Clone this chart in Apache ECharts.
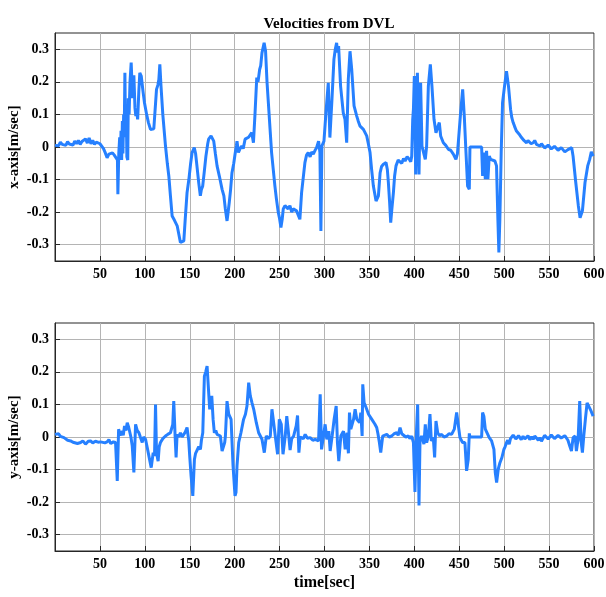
<!DOCTYPE html>
<html>
<head>
<meta charset="utf-8">
<script src="https://cdn.jsdelivr.net/npm/echarts@6/dist/echarts.min.js"></script>
<style>
  html, body { margin: 0; padding: 0; background: #fff; }
  #chart { width: 606px; height: 597px; }
</style>
</head>
<body>
<div id="chart"></div>
<script>
// x-axis velocity (top panel)
var timeX = [
  0,2,4,6,8,10,12,14,16,18,
  20,22,24,26,28,30,32,34,36,38,
  40,42,44,46,48,50,52,54,56,58,
  60,62,64,66,68,69.5,70,71,72,72.8,
  73.5,74.2,75,75.6,76.4,77,77.8,78.5,79.3,80,
  81,81.6,82.5,83.5,84.8,86.3,87.8,89,90,91,
  92,93.3,94.4,96,98,99.6,102,104,106.3,108.5,
  110,112,113,114.5,115.6,116.7,118,120,123,125,
  126.7,128.5,130.4,133,136,138,139.6,141.5,143.4,145,
  147,149,151,152.6,155,156.5,158,160,161.8,163,
  164.4,166,168,170,171,173.7,176.7,178.5,180.4,183,
  186,188,189.6,191.5,192.5,194,195.5,197,199,200.7,
  201.9,202.6,204.2,206,207.9,209.5,211.6,213.5,215.5,217.2,
  219,220.9,222.7,224.6,226,227.8,229,230.4,232.8,234.4,
  236,237.5,239.5,241.1,243,244.8,246.5,248.5,250,251.5,
  253,254.1,256,257.8,259.5,261.5,263.5,265.2,267,268.9,
  270.7,272.6,274.5,276.5,278.2,280,281.9,284,285.8,287.5,
  289.5,291.2,293.4,294.9,296,297.1,299.4,301.6,304.2,306,
  308.3,310.5,312,313.5,314.5,315.7,317.9,320.9,322.8,324.7,
  326.5,328.4,330.3,332.9,335.9,337.5,339.6,341.5,343.3,345,
  347,348.8,350.7,352.5,354.4,357.4,360,361.9,363.5,365.6,
  368.5,370,371.1,372.5,373.7,375,376.7,378,379.6,382,
  384.1,386,388,389.7,392,394.5,396,397.1,398.2,399,
  400,401.5,402.5,403.4,404.3,405.2,406,407,408.5,410.7,
  412.2,413.7,415.6,417.8,419.6,421.9,424.1,426,427.8,429.3,
  432.3,435,437.9,440.5,443.4,446.3,448,450,451.5,453.8,
  455.6,457.5,459.3,461.2,461.9,474.9,476,477.4,479,480.4,
  481.9,483.4,484.9,487,489.7,491.5,493,494.1,495.2,496.7,
  498.2,500.4,502.6,504.8,507.1,508.5,510,511,512,513,
  513.7,515,516.5,518,519.3,520.5,522,523.5,524.9,526.5,
  528.5,530,532.3,534,536,538,539.7,541.5,543.4,545,
  547.1,549,551,552.5,554.5,556,558,560,561.9,563.5,
  565.5,567.5,569.3,571,573,575.2,576.7,579.7,582.6,584.5,
  587.1,590,593,595.2,597,598.2,599
];
var velX = [
  0.005,0.01,0.004,0.015,0.008,0.012,0.005,0.016,0.009,0.014,
  0.006,0.018,0.01,0.02,0.008,0.017,0.011,0.025,0.012,0.028,
  0.01,0.02,0.008,0.015,0.012,0.01,0.004,-0.005,-0.018,-0.033,
  -0.022,-0.028,-0.018,-0.025,-0.02,-0.04,-0.145,-0.02,0.03,-0.03,
  0.05,-0.04,0.08,-0.02,0.1,0.03,0.228,0.05,0.12,-0.03,
  -0.04,0.15,0.1,0.2,0.259,0.15,0.22,0.12,0.095,0.11,
  0.085,0.17,0.228,0.218,0.17,0.136,0.1,0.075,0.054,0.05,
  0.056,0.06,0.177,0.19,0.207,0.254,0.187,0.1,0.003,-0.05,
  -0.089,-0.15,-0.212,-0.225,-0.242,-0.27,-0.293,-0.297,-0.288,-0.22,
  -0.14,-0.1,-0.05,-0.017,-0.002,-0.02,-0.058,-0.11,-0.15,-0.13,
  -0.12,-0.08,-0.028,0.01,0.024,0.034,0.018,-0.02,-0.058,-0.09,
  -0.13,-0.15,-0.19,-0.227,-0.205,-0.17,-0.13,-0.079,-0.05,-0.017,
  0.003,0.018,-0.017,-0.005,0.003,-0.005,0.024,0.02,0.03,0.029,
  0.044,0.013,0.105,0.213,0.2,0.238,0.25,0.289,0.32,0.294,
  0.2,0.136,0.05,-0.017,-0.07,-0.12,-0.16,-0.2,-0.22,-0.247,
  -0.22,-0.19,-0.18,-0.176,-0.19,-0.18,-0.2,-0.19,-0.185,-0.196,
  -0.2,-0.222,-0.14,-0.09,-0.048,-0.025,-0.017,-0.03,-0.015,-0.022,
  -0.01,-0.002,0.018,-0.017,-0.258,0.003,0.018,0.105,0.197,0.029,
  0.146,0.269,0.3,0.32,0.29,0.31,0.187,0.105,0.085,0.013,
  0.208,0.294,0.238,0.126,0.095,0.08,0.064,0.07,0.054,0.06,
  0.034,0.01,-0.017,-0.07,-0.12,-0.166,-0.15,-0.079,-0.06,-0.053,
  -0.048,-0.07,-0.109,-0.17,-0.232,-0.19,-0.14,-0.09,-0.058,-0.04,
  -0.038,-0.05,-0.035,-0.043,-0.03,-0.038,-0.045,-0.028,0.085,0.116,
  0.218,-0.084,0.05,0.228,0.1,-0.084,0.05,0.197,0.003,0.003,
  -0.038,0.003,0.187,0.254,0.187,0.085,0.044,0.06,0.075,0.034,
  0.013,0.005,-0.007,-0.01,-0.022,-0.038,-0.02,-0.017,0.105,0.177,
  0.095,-0.017,-0.12,-0.13,0,0,-0.089,-0.017,-0.099,-0.012,
  -0.099,-0.028,-0.038,-0.035,-0.043,-0.058,-0.222,-0.324,-0.222,-0.017,
  0.136,0.187,0.233,0.187,0.116,0.09,0.075,0.068,0.06,0.055,
  0.049,0.052,0.04,0.042,0.029,0.033,0.02,0.026,0.013,0.02,
  0.018,0.01,0.013,0.02,0.008,0.012,0.003,0.01,0.005,-0.003,
  -0.002,0.006,0.003,-0.006,-0.007,0.002,-0.003,-0.01,-0.012,-0.002,
  -0.006,-0.015,-0.017,-0.008,-0.012,-0.002,-0.028,-0.109,-0.181,-0.217,
  -0.196,-0.109,-0.058,-0.038,-0.015,-0.017,-0.028
];

// y-axis velocity (bottom panel)
var timeY = [
  0,2,4,6,8,10,12,14,17.4,20,
  22,25,28.5,31,34,37,39.6,42,45,48,
  50.8,53,55.5,58,60,62,65,67.4,69.3,70.8,
  72.5,74.8,76,77.4,79,80.4,82,83.4,84.5,86,
  87.8,89.7,91.5,93.4,95,97.1,98.5,100.8,102.5,104.5,
  107.1,109.3,110.8,111.9,113,114.8,116,117.4,120,123,
  125.5,128.5,131.1,132.2,133.7,134.8,135.9,137.5,139.6,141.5,
  143.4,145,147,148.9,150,151.5,153.4,155.2,156.5,158.2,
  160,161.9,163,164.5,166.3,167.8,169.3,171.1,172.2,173.3,
  174.5,176,177.4,179,180.4,182,184.1,186,187,188.9,
  189.7,191.5,193.4,196,198.2,200.4,201.5,202.6,204.5,207,
  209.9,212,213.7,215.6,217.4,219.3,221.2,224.1,226.7,230.4,
  233,235.2,237.5,239.7,241.5,243.4,245.2,247.8,249.7,251.9,
  253.8,256.3,258,260,261.7,263.5,265.6,268.5,270,271.5,
  273,274.8,276.5,278.5,281,284,287,289.7,291.5,293.4,
  295.2,296.7,298.9,300.7,302.6,304.8,306.3,308.5,310.7,313,
  314.4,315.9,318.2,321.1,323,325,326.6,327.8,329.3,332.3,
  334.1,336,339,340.4,341.9,342.6,344.1,345.6,347,349,
  350.8,352.5,354.4,356,358.1,359.5,361.1,362.6,364.8,367,
  369.3,372,374.8,377.5,380.4,382,384.1,386,387.8,390.5,
  393.4,395,397.1,399,400.7,402.2,403.7,405.2,406.3,408.1,
  410.7,412.2,413.7,415.6,417.4,418.9,421.1,422.6,424.1,426,
  428,430.4,433,436,438.5,441.5,444.5,447.1,449.3,450.8,
  453.7,456.3,458.2,460,461.2,461.9,474.9,476,477.4,479,
  481.2,483.4,486,488.6,490.1,491.6,493.4,495.3,497.5,499.7,
  501,502.7,504,505.6,507,508.2,510,511.9,513,514.5,
  516,517.5,519,521,523,524.9,526.5,528.5,530.5,532.3,
  534,536,538,539.7,541.5,543.4,545,547.1,549,551,
  552.5,554.5,556,558,560,561.9,563.5,565.5,567.5,569.3,
  571,573,574.9,576.7,579,580.4,582.3,584.1,585.6,587.1,
  588.6,590.4,592.3,594.5,596.7,599
];
var velY = [
  0.008,0.004,0.01,0.002,0.006,-0.002,-0.006,-0.01,-0.012,-0.016,
  -0.01,-0.02,-0.017,-0.012,-0.022,-0.013,-0.012,-0.018,-0.013,-0.016,
  -0.015,-0.012,-0.018,-0.015,-0.008,-0.02,-0.015,-0.017,-0.135,0.024,
  0.005,0.018,0.005,0.034,0.02,0.044,0.03,0.024,0,-0.028,
  -0.109,0.039,0.02,0.013,0,-0.017,0,-0.007,-0.03,-0.058,
  -0.094,-0.048,-0.058,0.1,-0.048,-0.074,-0.03,-0.017,-0.005,0.003,
  0.008,0.013,0.039,0.11,0.003,-0.063,0.008,0,0.013,0,
  0.003,0.015,0.029,-0.012,-0.06,-0.12,-0.181,-0.069,-0.05,-0.048,
  -0.03,-0.038,-0.01,0.013,0.187,0.2,0.218,0.218,0.085,0.1,
  0.126,0.054,0.013,0.02,0.008,0.012,0.003,-0.043,-0.048,-0.017,
  0.003,0.11,0.07,0.054,-0.089,-0.181,-0.17,-0.089,-0.017,0.013,
  0.054,0.07,0.095,0.167,0.126,0.105,0.085,0.044,0.013,-0.007,
  -0.048,0.003,-0.005,0.003,0.085,0.044,0.003,-0.053,0.054,0.039,
  -0.053,0.003,0.064,0.01,-0.04,-0.005,0.003,0.034,0.066,-0.048,
  0,0.003,-0.005,0.008,-0.004,-0.002,-0.01,-0.007,-0.002,-0.012,
  0.131,-0.038,0.003,0.039,-0.007,0.018,-0.043,0.003,0.054,0.095,
  -0.017,-0.074,0.003,0.018,-0.038,0.013,-0.05,0.075,0.024,0.054,
  0.085,0.054,0.044,0.075,0.003,0.162,0.105,0.095,0.085,0.07,
  0.064,0.055,0.049,0.04,0.029,0.01,-0.017,-0.048,0.003,0,
  0.008,0,0.003,0.01,0.013,0.005,0.029,0.01,0.008,0,
  0.003,-0.005,0.003,-0.017,-0.169,0.003,0.1,-0.21,-0.012,0.003,
  -0.022,0.039,-0.017,0.003,0.07,-0.012,-0.002,-0.063,0.049,0.013,
  0.004,0.008,0,0.003,0.01,0.008,0.024,0.075,0.08,-0.002,
  -0.017,-0.017,-0.104,-0.069,0.011,0,0,0.075,0.064,0.024,
  0.029,-0.002,-0.012,-0.038,-0.109,-0.14,-0.099,-0.079,-0.063,-0.038,
  -0.03,-0.017,-0.01,-0.022,-0.005,-0.007,0.006,0.003,-0.006,-0.005,
  0.004,-0.002,-0.008,0.002,-0.006,-0.002,0.004,-0.008,0.001,-0.007,
  0.003,-0.001,-0.01,-0.002,-0.013,-0.012,0.005,0.003,-0.006,-0.004,
  0.006,0.003,-0.005,-0.003,0.005,0.008,-0.003,-0.004,0.004,-0.002,
  -0.01,-0.028,-0.043,-0.002,0.003,-0.043,-0.007,0.11,-0.012,-0.048,
  0.003,0.054,0.105,0.1,0.08,0.064
];

var yTicks = [-0.3, -0.2, -0.1, 0, 0.1, 0.2, 0.3];

function pairs(ts, vs) {
  return ts.map(function (t, i) { return [t, vs[i]]; });
}

var font = 'Liberation Serif';
var lineColor = '#2680ff';

function makeX(idx, name) {
  return {
    type: 'value', gridIndex: idx, min: 0, max: 600, interval: 50,
    name: name, nameLocation: 'middle', nameGap: 24,
    nameTextStyle: { fontFamily: font, fontWeight: 'bold', fontSize: 16, color: '#000' },
    axisLine: { show: true, onZero: false, lineStyle: { color: '#262626', width: 1 } },
    axisTick: { show: true, inside: true, length: 5, lineStyle: { color: '#262626' } },
    axisLabel: {
      fontFamily: font, fontWeight: 'bold', fontSize: 14, color: '#000', margin: 6,
      formatter: function (v) { return v === 0 ? '' : String(v); }
    },
    splitLine: { show: true, lineStyle: { color: '#b4b4b4', width: 1 } }
  };
}

function makeY(idx, name) {
  return {
    type: 'value', gridIndex: idx, min: -0.35, max: 0.35,
    name: name, nameLocation: 'middle', nameGap: 33, nameMoveOverlap: false,
    nameTextStyle: { fontFamily: font, fontWeight: 'bold', fontSize: 15, color: '#000' },
    axisLine: { show: true, onZero: false, lineStyle: { color: '#262626', width: 1 } },
    axisTick: { show: true, inside: true, length: 5, customValues: yTicks, lineStyle: { color: '#262626' } },
    axisLabel: {
      fontFamily: font, fontWeight: 'bold', fontSize: 14, color: '#000', margin: 6,
      customValues: yTicks,
      formatter: function (v) { return String(Math.round(v * 10) / 10); }
    },
    splitLine: { show: true, lineStyle: { color: '#b4b4b4', width: 1 } }
  };
}

var myChart = echarts.init(document.getElementById('chart'));
var option = {
  animation: false,
  backgroundColor: '#fff',
  title: {
    text: 'Velocities from DVL', left: 324, top: 12, textAlign: 'center',
    textStyle: { fontFamily: font, fontWeight: 'bold', fontSize: 15, color: '#000' }
  },
  grid: [
    { left: 55, right: 12, top: 33, height: 228, show: true, borderColor: '#262626', borderWidth: 1,
      containLabel: false, outerBoundsMode: 'none' },
    { left: 55, right: 12, top: 323, height: 228, show: true, borderColor: '#262626', borderWidth: 1,
      containLabel: false, outerBoundsMode: 'none' }
  ],
  xAxis: [makeX(0, ''), makeX(1, 'time[sec]')],
  yAxis: [makeY(0, 'x-axis[m/sec]'), makeY(1, 'y-axis[m/sec]')],
  series: [
    {
      type: 'line', xAxisIndex: 0, yAxisIndex: 0, data: pairs(timeX, velX),
      showSymbol: false, lineStyle: { color: lineColor, width: 3 }
    },
    {
      type: 'line', xAxisIndex: 1, yAxisIndex: 1, data: pairs(timeY, velY),
      showSymbol: false, lineStyle: { color: lineColor, width: 3 }
    }
  ]
};
myChart.setOption(option);
</script>
</body>
</html>
